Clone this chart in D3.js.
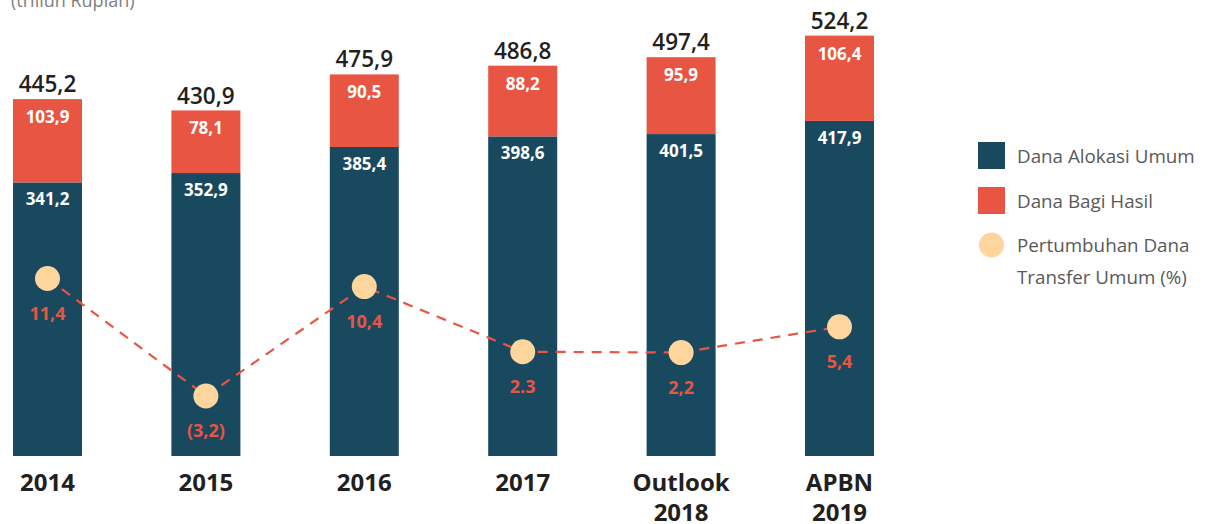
<!DOCTYPE html>
<html>
<head>
<meta charset="utf-8">
<script src="https://cdn.jsdelivr.net/npm/d3@7"></script>
<style>
  html, body { margin: 0; padding: 0; background: #ffffff; }
  svg { display: block; font-family: "Open Sans", "Noto Sans", sans-serif; }
</style>
</head>
<body>
<svg id="chart" width="1205" height="524"></svg>
<script>
// Transfer ke daerah: Dana Alokasi Umum + Dana Bagi Hasil (triliun Rupiah)
const categories = [["2014"], ["2015"], ["2016"], ["2017"], ["Outlook", "2018"], ["APBN", "2019"]];
const dau = [341.2, 352.9, 385.4, 398.6, 401.5, 417.9];
const dbh = [103.9, 78.1, 90.5, 88.2, 95.9, 106.4];
const totals = [445.2, 430.9, 475.9, 486.8, 497.4, 524.2];
const growth = [11.4, -3.2, 10.4, 2.3, 2.2, 5.4];
const growthLabels = ["11,4", "(3,2)", "10,4", "2.3", "2,2", "5,4"];
const legendItems = [
  { type: "rect", color: "#18495e", lines: ["Dana Alokasi Umum"] },
  { type: "rect", color: "#e85542", lines: ["Dana Bagi Hasil"] },
  { type: "circle", color: "#fdd59d", lines: ["Pertumbuhan Dana", "Transfer Umum (%)"] }
];

const C_DAU = "#18495e", C_DBH = "#e85542", C_DOT = "#fdd59d", C_LINE = "#e85542";
const fmt = v => d3.format(".1f")(v).replace(".", ",");

const svg = d3.select("#chart");
const keys = categories.map((c, i) => String(i));

const x = d3.scaleBand().domain(keys).range([13, 874]).paddingInner(0.5644).paddingOuter(0);
const y = d3.scaleLinear().domain([0, 524.2]).range([456, 35.7]);
const yG = d3.scaleLinear().domain([-3.2, 11.4]).range([396, 278.5]);

// unit caption, partially clipped at the top edge
svg.append("text").attr("x", 11).attr("y", 7)
  .attr("font-size", 18).attr("fill", "#808080").text("(triliun Rupiah)");

const g = svg.append("g");

// stacked bars
keys.forEach((k, i) => {
  const x0 = x(k), w = x.bandwidth();
  g.append("rect").attr("x", x0).attr("width", w)
    .attr("y", y(dau[i])).attr("height", y(0) - y(dau[i])).attr("fill", C_DAU);
  g.append("rect").attr("x", x0).attr("width", w)
    .attr("y", y(dau[i] + dbh[i])).attr("height", y(dau[i]) - y(dau[i] + dbh[i])).attr("fill", C_DBH);

  const cx = x0 + w / 2;
  g.append("text").attr("x", cx).attr("y", y(dau[i] + dbh[i]) + 24)
    .attr("text-anchor", "middle").attr("font-size", 17).attr("font-weight", 700)
    .attr("fill", "#ffffff").text(fmt(dbh[i]));
  g.append("text").attr("x", cx).attr("y", y(dau[i]) + 23)
    .attr("text-anchor", "middle").attr("font-size", 17).attr("font-weight", 700)
    .attr("fill", "#ffffff").text(fmt(dau[i]));
  g.append("text").attr("x", cx).attr("y", y(totals[i]) - 7)
    .attr("text-anchor", "middle").attr("font-size", 22.5).attr("font-weight", 600)
    .attr("fill", "#231f20").text(fmt(totals[i]));

  // category label
  const t = g.append("text").attr("text-anchor", "middle").attr("font-size", 24)
    .attr("font-weight", 700).attr("fill", "#231f20");
  categories[i].forEach((line, j) => {
    t.append("tspan").attr("x", cx).attr("y", 491 + j * 30).text(line);
  });
});

// growth line
const cxOf = i => x(keys[i]) + x.bandwidth() / 2;
const line = d3.line().x((d, i) => cxOf(i)).y(d => yG(d));
g.append("path").datum(growth).attr("d", line)
  .attr("fill", "none").attr("stroke", C_LINE).attr("stroke-width", 2.2)
  .attr("stroke-dasharray", "10,8");

growth.forEach((v, i) => {
  g.append("circle").attr("cx", cxOf(i)).attr("cy", yG(v)).attr("r", 12.5).attr("fill", C_DOT);
  g.append("text").attr("x", cxOf(i)).attr("y", yG(v) + 41)
    .attr("text-anchor", "middle").attr("font-size", 18).attr("font-weight", 700)
    .attr("fill", C_LINE).text(growthLabels[i]);
});

// legend
const lg = svg.append("g");
const rowY = [155.5, 200.5, 245];
legendItems.forEach((it, i) => {
  if (it.type === "rect") {
    lg.append("rect").attr("x", 978).attr("y", rowY[i] - 13.5).attr("width", 27).attr("height", 27).attr("fill", it.color);
  } else {
    lg.append("circle").attr("cx", 991.5).attr("cy", rowY[i]).attr("r", 12.5).attr("fill", it.color);
  }
  it.lines.forEach((ln, j) => {
    lg.append("text").attr("x", 1017).attr("y", rowY[i] + 7 + j * 32)
      .attr("font-size", 18.8).attr("fill", "#595959").text(ln);
  });
});
</script>
</body>
</html>
